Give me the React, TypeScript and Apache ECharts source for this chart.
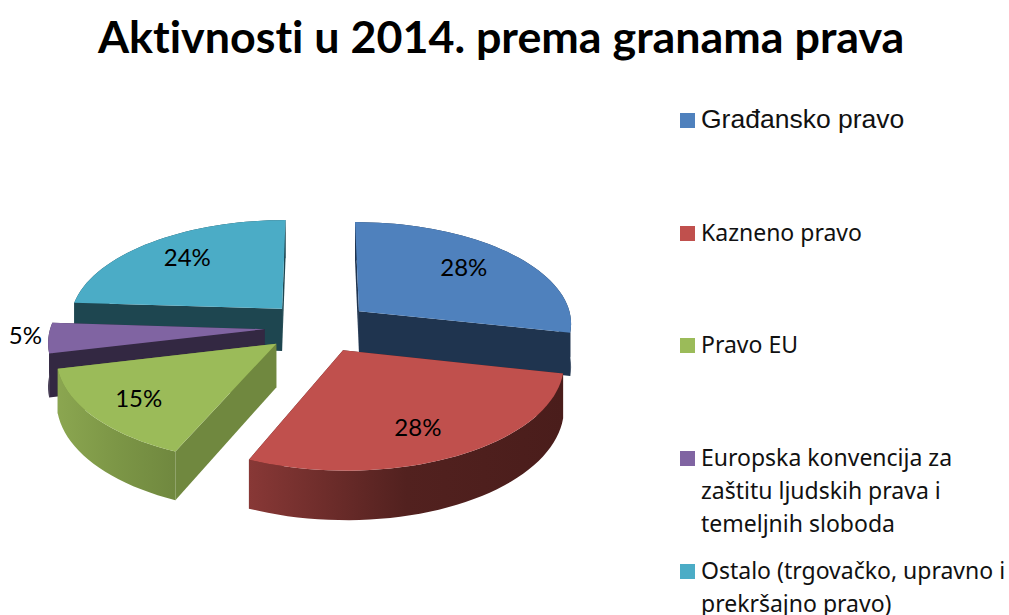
import React, { useEffect, useRef } from "react";
import * as echarts from "echarts";

const titleText = "Aktivnosti u 2014. prema granama prava";
const sliceNames = [
  "Građansko pravo",
  "Kazneno pravo",
  "Pravo EU",
  "Europska konvencija za\nzaštitu ljudskih prava i\ntemeljnih sloboda",
  "Ostalo (trgovačko, upravno i\nprekršajno pravo)",
];
const sliceValues = [28.4, 28.1, 14.8, 4.7, 24];
const topColors = ["#4f81bd", "#c0504d", "#9bbb59", "#8064a2", "#4bacc6"];
const faceColors = ["#1f344f", "#4c1e1c", "#70883f", "#332842", "#1e4650"];
const wallStops = [
  ["#1f344f", "#1f344f", "#1f344f"],
  ["#883836", "#52211f", "#4a1d1b"],
  ["#8ba650", "#7c9646", "#70883f"],
  ["#332842", "#332842", "#332842"],
  ["#1e4650", "#1e4650", "#1e4650"],
];
const drawOrder = [4, 0, 3, 2, 1];
const labelRadius = [0.68, 0.76, 0.78, 1.105, 0.71];
const labelAngleShift = [0, 0.06, -0.025, 0, 0];
const legendY = [120, 233, 345, 458, 571];

const CX = 318, CY = 327, RX = 214, RY = 102, PERSPECTIVE = 0.108, DEPTH = 43, EXPLODE = 0.25;
const LEGEND_LINE = 33;
const total = sliceValues.reduce((a, b) => a + b, 0);

function project(u: number, v: number, h: number): [number, number] {
  const s = 1 / (1 - PERSPECTIVE * v);
  return [CX + RX * u * s, CY + (RY * v + h) * s];
}

function renderSlice(params: any, api: any) {
  const i = params.dataIndex;
  const before = sliceValues.slice(0, i).reduce((a, b) => a + b, 0);
  const start = (before / total) * Math.PI * 2;
  const end = ((before + (api.value(0) as number)) / total) * Math.PI * 2;
  const mid = (start + end) / 2;
  const ou = EXPLODE * Math.sin(mid);
  const ov = -EXPLODE * Math.cos(mid);
  const n = Math.max(8, Math.round((end - start) * 24));
  const rim: [number, number][] = [];
  for (let k = 0; k <= n; k++) {
    const a = start + ((end - start) * k) / n;
    rim.push([ou + Math.sin(a), ov - Math.cos(a)]);
  }
  const rank = drawOrder.indexOf(i) * 10 + 1;
  const at = (h: number) => rim.map(([u, v]) => project(u, v, h));
  const top = at(0);
  const bottom = at(DEPTH);
  const apexT = project(ou, ov, 0);
  const apexB = project(ou, ov, DEPTH);
  const face = (a: number) => ({
    type: "polygon",
    z2: rank,
    shape: { points: [apexT, top[a], bottom[a], apexB] },
    style: { fill: faceColors[i] },
  });
  const stops = wallStops[i];
  const la = mid + labelAngleShift[i];
  const lu = ou + labelRadius[i] * Math.sin(la);
  const lv = ov - labelRadius[i] * Math.cos(la);
  const labelPos = project(lu, lv, 0);
  return {
    type: "group",
    children: [
      face(n),
      face(0),
      {
        type: "polygon",
        z2: rank + 1,
        shape: { points: [...top, ...bottom.slice().reverse()] },
        style: {
          fill: new echarts.graphic.LinearGradient(0, 0, 1, 0, [
            { offset: 0, color: stops[0] },
            { offset: 0.5, color: stops[1] },
            { offset: 1, color: stops[2] },
          ]),
        },
      },
      {
        type: "polygon",
        z2: rank + 2,
        shape: { points: [apexT, ...top] },
        style: { fill: topColors[i] },
      },
      {
        type: "text",
        z2: 100,
        x: labelPos[0],
        y: labelPos[1] - 4,
        style: {
          text: Math.round(api.value(0)) + "%",
          fill: "#000",
          font: "24px Lato",
          align: "center",
          verticalAlign: "middle",
        },
      },
    ],
  };
}

export default function App() {
  const ref = useRef<HTMLDivElement>(null);
  useEffect(() => {
    if (!ref.current) return;
    const chart = echarts.init(ref.current, undefined, { renderer: "svg" });
    const legend: any[] = [];
    sliceNames.forEach((name, i) => {
      legend.push({
        type: "rect",
        left: 680,
        top: legendY[i] - 7,
        shape: { width: 15, height: 15 },
        style: { fill: topColors[i] },
      });
      name.split("\n").forEach((line, k) => {
        legend.push({
          type: "text",
          x: 701,
          y: legendY[i] - 1 + LEGEND_LINE * k,
          style: {
            text: line,
            fill: "#111",
            font: i === 0 ? '26.5px "Liberation Sans"' : '23px "Noto Sans"',
            lineHeight: 22,
            align: "left",
            verticalAlign: "middle",
          },
        });
      });
    });
    chart.setOption({
      animation: false,
      title: {
        text: titleText,
        left: 93,
        top: 8,
        textStyle: { fontFamily: "Lato", fontWeight: 700, fontSize: 44.8, color: "#000" },
      },
      graphic: legend,
      series: [
        {
          type: "custom",
          coordinateSystem: "none",
          renderItem: renderSlice,
          silent: true,
          data: sliceValues.map((v) => [v]),
        },
      ],
    });
    return () => chart.dispose();
  }, []);
  return (
    <div
      ref={ref}
      style={{ position: "fixed", left: 0, top: 0, width: 1009, height: 615, background: "#fff", fontVariantLigatures: "none" }}
    />
  );
}
